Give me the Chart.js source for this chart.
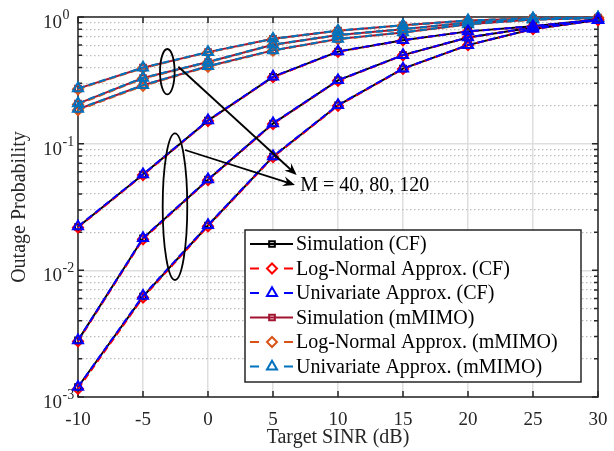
<!DOCTYPE html>
<html>
<head>
<meta charset="utf-8">
<script src="https://cdn.jsdelivr.net/npm/chart.js@4.4.1/dist/chart.umd.min.js"></script>
<style>
  html, body { margin: 0; padding: 0; background: #fff; }
  #wrap { width: 614px; height: 451px; position: relative; }
</style>
</head>
<body>
<div id="wrap"><canvas id="chart"></canvas></div>
<script>
const sinrDb = [-10, -5, 0, 5, 10, 15, 20, 25, 30];

// cell-free, M = 40 / 80 / 120 (top to bottom)
const cfSimM40  = [0.022, 0.057, 0.152, 0.337, 0.533, 0.655, 0.77, 0.845, 0.955];
const cfSimM80  = [0.0028, 0.0179, 0.052, 0.144, 0.316, 0.50, 0.69, 0.825, 0.95];
const cfSimM120 = [0.0012, 0.0062, 0.0226, 0.079, 0.201, 0.391, 0.60, 0.805, 0.945];
const cfLnM40   = [0.0218, 0.0565, 0.151, 0.335, 0.531, 0.654, 0.769, 0.844, 0.955];
const cfLnM80   = [0.00275, 0.0176, 0.0515, 0.143, 0.314, 0.499, 0.689, 0.824, 0.95];
const cfLnM120  = [0.00116, 0.0061, 0.0223, 0.0783, 0.199, 0.389, 0.599, 0.804, 0.945];
const cfUvM40   = [0.0222, 0.0572, 0.153, 0.338, 0.535, 0.656, 0.77, 0.846, 0.956];
const cfUvM80   = [0.0028, 0.018, 0.0523, 0.145, 0.317, 0.501, 0.691, 0.826, 0.951];
const cfUvM120  = [0.0012, 0.0063, 0.0228, 0.0795, 0.202, 0.392, 0.601, 0.806, 0.946];

// massive MIMO
const mmSimM40  = [0.272, 0.398, 0.528, 0.673, 0.78, 0.86, 0.94, 0.975, 0.99];
const mmSimM80  = [0.207, 0.330, 0.441, 0.604, 0.72, 0.80, 0.905, 0.965, 0.985];
const mmSimM120 = [0.187, 0.289, 0.408, 0.545, 0.67, 0.755, 0.875, 0.955, 0.98];
const mmLnM40   = [0.269, 0.395, 0.525, 0.67, 0.778, 0.858, 0.939, 0.974, 0.99];
const mmLnM80   = [0.204, 0.327, 0.438, 0.601, 0.718, 0.798, 0.903, 0.964, 0.985];
const mmLnM120  = [0.184, 0.286, 0.405, 0.542, 0.667, 0.753, 0.873, 0.954, 0.98];
const mmUvM40   = [0.273, 0.399, 0.529, 0.674, 0.781, 0.861, 0.94, 0.975, 0.99];
const mmUvM80   = [0.208, 0.331, 0.442, 0.605, 0.721, 0.801, 0.906, 0.965, 0.985];
const mmUvM120  = [0.188, 0.290, 0.409, 0.546, 0.671, 0.756, 0.876, 0.955, 0.98];

const legendLabels = [
  'Simulation (CF)', 'Log-Normal Approx. (CF)', 'Univariate Approx. (CF)',
  'Simulation (mMIMO)', 'Log-Normal Approx. (mMIMO)', 'Univariate Approx. (mMIMO)'
];
const yDecades = [0.001, 0.01, 0.1, 1];
const yMinorSteps = [2, 3, 4, 5, 6, 7, 8, 9];
const noteText = 'M = 40, 80, 120';

const FONT = "'Liberation Serif', 'Times New Roman', serif";
const AXIS = '#262626';

const groups = [
  { label: legendLabels[0], color: '#000000', dash: [],     style: 'rect',     radius: 4,   order: 3, series: [cfSimM40, cfSimM80, cfSimM120] },
  { label: legendLabels[1], color: '#ff0000', dash: [7, 4], style: 'rectRot',  radius: 5,   order: 2, series: [cfLnM40, cfLnM80, cfLnM120] },
  { label: legendLabels[2], color: '#0000ff', dash: [7, 4], style: 'triangle', radius: 5.8, order: 1, series: [cfUvM40, cfUvM80, cfUvM120] },
  { label: legendLabels[3], color: '#a2142f', dash: [],     style: 'rect',     radius: 4,   order: 6, series: [mmSimM40, mmSimM80, mmSimM120] },
  { label: legendLabels[4], color: '#d95319', dash: [7, 4], style: 'rectRot',  radius: 5,   order: 5, series: [mmLnM40, mmLnM80, mmLnM120] },
  { label: legendLabels[5], color: '#0072bd', dash: [7, 4], style: 'triangle', radius: 5.8, order: 4, series: [mmUvM40, mmUvM80, mmUvM120] }
];

const datasets = [];
groups.forEach(g => {
  g.series.forEach(s => {
    datasets.push({
      label: g.label,
      data: s,
      borderColor: g.color,
      backgroundColor: g.color,
      borderWidth: 2,
      borderDash: g.dash,
      pointStyle: g.style,
      pointRadius: g.radius,
      pointBorderWidth: 2,
      pointBorderColor: g.color,
      pointBackgroundColor: 'rgba(0,0,0,0)',
      tension: 0,
      fill: false,
      clip: false,
      order: g.order
    });
  });
});

// annotation geometry, given in data units
const ellipses = [
  { x: -3.13, y: 0.37,   rx: 7.3,  ry: 22.7 },
  { x: -2.54, y: 0.0318, rx: 12.3, ry: 73.3 }
];
const arrows = [
  { x0: -2.28, y0: 0.405,  x1: 6.82, y1: 0.0566 },
  { x0: -1.77, y0: 0.0891, x1: 6.69, y1: 0.0472 }
];
const note = { x: 7.1, y: 0.0465 };

function drawArrowHead(ctx, x0, y0, x1, y1) {
  const ang = Math.atan2(y1 - y0, x1 - x0);
  const len = 12, half = 5, notch = 8;
  ctx.save();
  ctx.translate(x1, y1);
  ctx.rotate(ang);
  ctx.beginPath();
  ctx.moveTo(0, 0);
  ctx.lineTo(-len, -half);
  ctx.lineTo(-notch, 0);
  ctx.lineTo(-len, half);
  ctx.closePath();
  ctx.fill();
  ctx.restore();
}

const overlay = {
  id: 'overlay',
  beforeDatasetsDraw(chart) {
    const { ctx, chartArea: a, scales } = chart;
    ctx.save();
    ctx.strokeStyle = AXIS;
    ctx.lineWidth = 1.5;
    ctx.strokeRect(a.left, a.top, a.right - a.left, a.bottom - a.top);

    ctx.beginPath();
    scales.x.ticks.forEach(t => {
      const px = scales.x.getPixelForValue(t.value);
      ctx.moveTo(px, a.bottom); ctx.lineTo(px, a.bottom - 6);
      ctx.moveTo(px, a.top); ctx.lineTo(px, a.top + 6);
    });
    [scales.y, scales.y2].forEach((s, k) => {
      const len = k === 0 ? 6 : 4;
      s.ticks.forEach(t => {
        const py = s.getPixelForValue(t.value);
        ctx.moveTo(a.left, py); ctx.lineTo(a.left + len, py);
        ctx.moveTo(a.right, py); ctx.lineTo(a.right - len, py);
      });
    });
    ctx.stroke();

    // y labels as 10 with a raised exponent
    ctx.fillStyle = AXIS;
    ctx.textBaseline = 'alphabetic';
    scales.y.ticks.forEach(t => {
      const py = scales.y.getPixelForValue(t.value);
      const e = Math.round(Math.log10(t.value));
      ctx.font = '19px ' + FONT;
      ctx.textAlign = 'right';
      ctx.fillText('10', a.left - 16, py + 11);
      ctx.font = '14px ' + FONT;
      ctx.textAlign = 'left';
      ctx.fillText(String(e), a.left - 15.5, py + 2);
    });
    ctx.restore();
  },
  afterDatasetsDraw(chart) {
    const { ctx, scales } = chart;
    const sx = v => scales.x.getPixelForValue(v);
    const sy = v => scales.y.getPixelForValue(v);
    ctx.save();
    ctx.strokeStyle = '#000';
    ctx.fillStyle = '#000';
    ctx.lineWidth = 1.8;
    ellipses.forEach(e => {
      ctx.beginPath();
      ctx.ellipse(sx(e.x), sy(e.y), e.rx, e.ry, 0, 0, Math.PI * 2);
      ctx.stroke();
    });
    arrows.forEach(r => {
      const x0 = sx(r.x0), y0 = sy(r.y0), x1 = sx(r.x1), y1 = sy(r.y1);
      ctx.beginPath();
      ctx.moveTo(x0, y0);
      ctx.lineTo(x1 - (x1 - x0) * 0.03, y1 - (y1 - y0) * 0.03);
      ctx.stroke();
      drawArrowHead(ctx, x0, y0, x1, y1);
    });
    ctx.font = '20px ' + FONT;
    ctx.textAlign = 'left';
    ctx.textBaseline = 'middle';
    ctx.fillStyle = '#000';
    ctx.fillText(noteText, sx(note.x), sy(note.y));
    ctx.restore();
  },
  afterDraw(chart) {
    const { ctx, chartArea: a } = chart;
    const w = 336, h = 152;
    const left = a.right - 17 - w, top = a.bottom - 15 - h;
    ctx.save();
    ctx.fillStyle = '#fff';
    ctx.fillRect(left, top, w, h);
    ctx.strokeStyle = AXIS;
    ctx.lineWidth = 1.5;
    ctx.strokeRect(left, top, w, h);
    groups.forEach((g, i) => {
      const cy = top + 14 + i * 24.5;
      const mx = left + 27;
      ctx.strokeStyle = g.color;
      ctx.lineWidth = 2;
      ctx.beginPath();
      if (g.dash.length) {
        ctx.moveTo(left + 5, cy); ctx.lineTo(left + 14, cy);
        ctx.moveTo(left + 39, cy); ctx.lineTo(left + 48, cy);
      } else {
        ctx.moveTo(left + 5, cy); ctx.lineTo(left + 48, cy);
      }
      ctx.stroke();
      ctx.fillStyle = 'rgba(0,0,0,0)';
      Chart.helpers.drawPoint(ctx, { pointStyle: g.style, radius: g.radius, borderWidth: 2, rotation: 0 }, mx, cy);
      ctx.fillStyle = '#000';
      ctx.font = '20px ' + FONT;
      ctx.textAlign = 'left';
      ctx.textBaseline = 'middle';
      ctx.fillText(g.label, left + 51, cy + 1);
    });
    ctx.restore();
  }
};

new Chart(document.getElementById('chart'), {
  type: 'line',
  data: { labels: sinrDb, datasets: datasets },
  options: {
    responsive: true,
    maintainAspectRatio: false,
    animation: false,
    events: [],
    layout: { padding: { top: 17, left: 0, right: 0, bottom: 0 } },
    plugins: { legend: { display: false }, tooltip: { enabled: false } },
    scales: {
      x: {
        type: 'linear',
        min: -10, max: 30,
        ticks: { stepSize: 5, color: AXIS, font: { family: FONT, size: 19 }, padding: 12, maxRotation: 0 },
        grid: { color: '#dedede', lineWidth: 1.5, drawTicks: false },
        border: { display: false },
        title: { display: true, text: 'Target SINR (dB)', color: AXIS, font: { family: FONT, size: 20 }, padding: { top: 0, bottom: 1 } },
        afterFit: s => { s.height = 54; s.paddingLeft = 0; s.paddingRight = 0; }
      },
      y: {
        type: 'logarithmic',
        position: 'left',
        min: 0.001, max: 1,
        afterBuildTicks: s => { s.ticks = yDecades.map(v => ({ value: v })); },
        ticks: { display: false },
        grid: { color: '#dedede', lineWidth: 1.5, drawTicks: false },
        border: { display: false },
        title: { display: true, text: 'Outage Probability', color: AXIS, font: { family: FONT, size: 20 }, padding: { top: 8, bottom: 0 } },
        afterFit: s => { s.width = 78; }
      },
      y2: {
        type: 'logarithmic',
        position: 'right',
        min: 0.001, max: 1,
        afterBuildTicks: s => {
          const list = [];
          yDecades.slice(0, -1).forEach(d => yMinorSteps.forEach(m => list.push({ value: d * m })));
          s.ticks = list;
        },
        ticks: { display: false },
        grid: { color: '#bdbdbd', lineWidth: 1.2, drawTicks: false },
        border: { display: false, dash: [1.5, 2.5] },
        afterFit: s => { s.width = 16; }
      }
    }
  },
  plugins: [overlay]
});
</script>
</body>
</html>
